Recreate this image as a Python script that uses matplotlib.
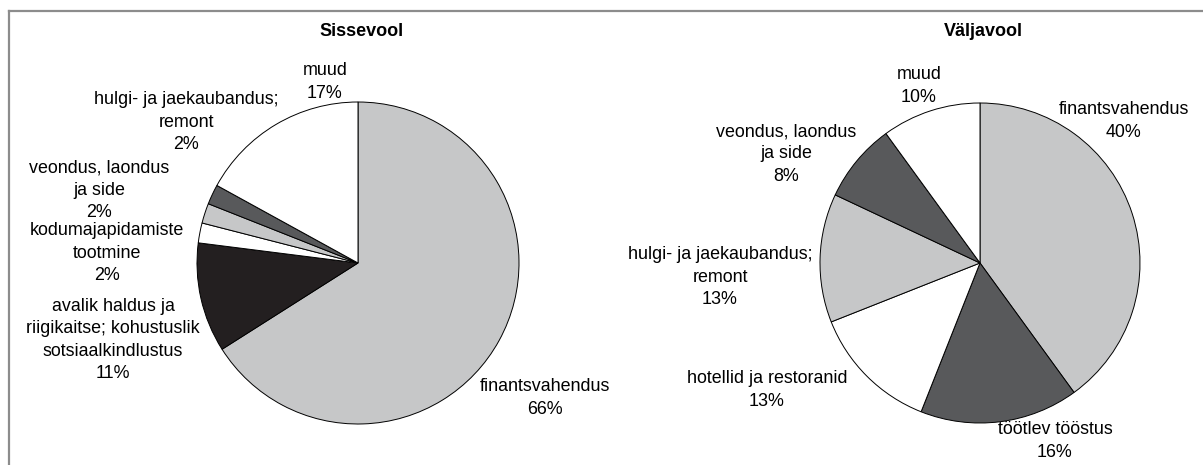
import matplotlib.pyplot as plt
from matplotlib.lines import Line2D

plt.rcParams['font.family'] = ['Liberation Sans', 'DejaVu Sans']

# Sissevool (inflow)
in_labels = ["finantsvahendus", "avalik haldus ja\nriigikaitse; kohustuslik\nsotsiaalkindlustus",
             "kodumajapidamiste\ntootmine", "veondus, laondus\nja side",
             "hulgi- ja jaekaubandus;\nremont", "muud"]
in_values = [66, 11, 2, 2, 2, 17]
in_colors = ["#c6c7c8", "#231f20", "#ffffff", "#c6c7c8", "#58595b", "#ffffff"]

# Väljavool (outflow)
out_labels = ["finantsvahendus", "töötlev tööstus", "hotellid ja restoranid",
              "hulgi- ja jaekaubandus;\nremont", "veondus, laondus\nja side", "muud"]
out_values = [40, 16, 13, 13, 8, 10]
out_colors = ["#c6c7c8", "#58595b", "#ffffff", "#c6c7c8", "#58595b", "#ffffff"]

W, H = 1203, 465
fig = plt.figure(figsize=(W / 100, H / 100), dpi=100)


def px(x, y):
    return x / W, 1 - y / H


# label positions in pixels (centre of text block)
in_pos = [(545, 398), (113, 340), (107, 253), (99, 190), (186, 122), (325, 82)]
out_pos = [(1124, 121), (1055, 441), (767, 390), (720, 277), (786, 154), (919, 86)]


def draw_pie(cx, cy, r, values, colors, labels, pos, title, tx):
    ax = fig.add_axes([(cx - r) / W, 1 - (cy + r) / H, 2 * r / W, 2 * r / H])
    ax.pie(values, colors=colors, startangle=90, counterclock=False,
           wedgeprops=dict(edgecolor="black", linewidth=0.7))
    ax.set_xlim(-1, 1)
    ax.set_ylim(-1, 1)
    ax.set_aspect("equal")
    ax.axis("off")
    total = sum(values)
    for lab, v, (x, y) in zip(labels, values, pos):
        fx, fy = px(x, y)
        fig.text(fx, fy, f"{lab}\n{round(v / total * 100)}%", ha="center", va="center",
                 fontsize=12.9, linespacing=1.42)
    fx, fy = px(tx, 32)
    fig.text(fx, fy, title, ha="center", va="center", fontsize=13, fontweight="bold")


draw_pie(358, 263, 161, in_values, in_colors, in_labels, in_pos, "Sissevool", 362)
draw_pie(980, 263, 160, out_values, out_colors, out_labels, out_pos, "Väljavool", 983)

# frame (left and top edges only visible)
fig.add_artist(Line2D([8.5 / W, 8.5 / W], [0, 1 - 11 / H], color="#8c8c8c", lw=1.6,
                      transform=fig.transFigure))
fig.add_artist(Line2D([8.5 / W, 1], [1 - 11 / H, 1 - 11 / H], color="#8c8c8c", lw=1.6,
                      transform=fig.transFigure))

fig.savefig("out.png", dpi=100)
